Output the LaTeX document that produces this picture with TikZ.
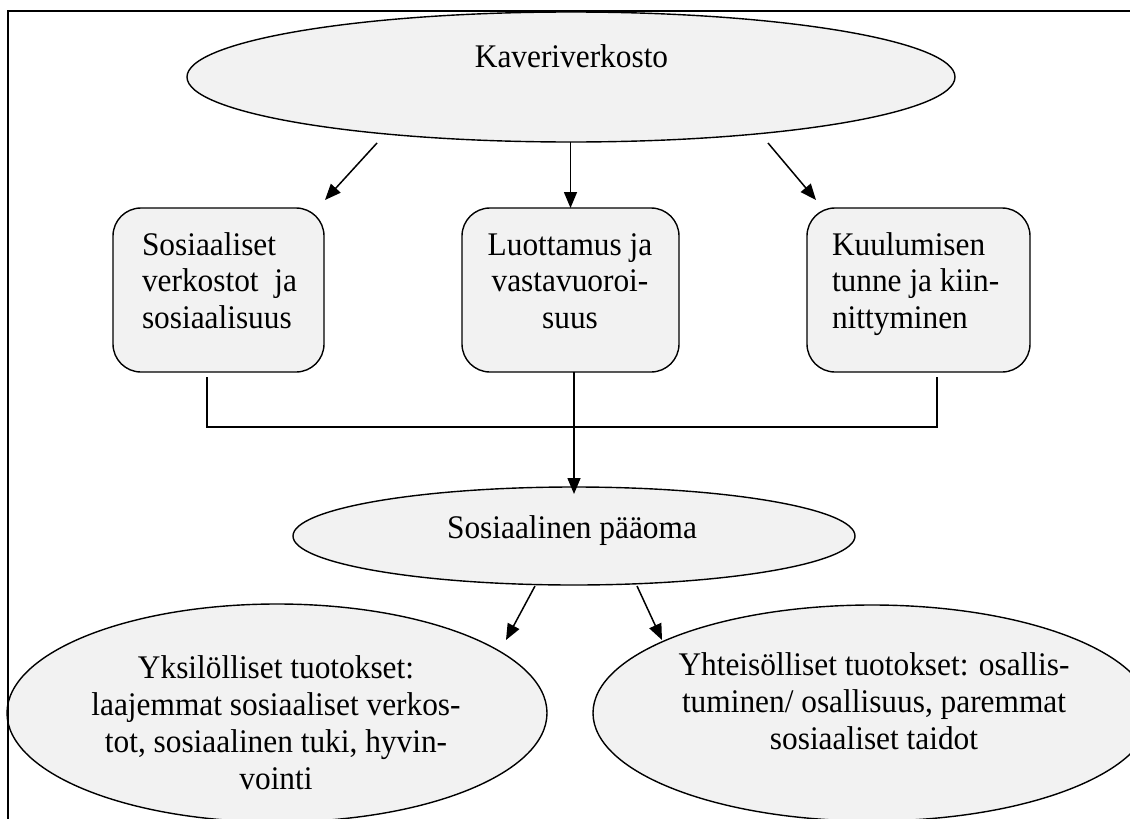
\documentclass[tikz,border=0pt]{standalone}
\usepackage{fontspec}
\setmainfont[FakeStretch=0.95]{Liberation Serif}
\usetikzlibrary{arrows.meta,shapes.geometric}
\definecolor{fillgray}{HTML}{F2F2F2}
\begin{document}
\begin{tikzpicture}[x=1pt,y=-1pt,
  every node/.style={inner sep=0pt, outer sep=0pt},
  shapeline/.style={draw=black, line width=1.4pt, fill=fillgray},
  oval/.style={shapeline, ellipse},
  rbox/.style={shapeline, rectangle, rounded corners=28pt},
  txt/.style={font=\fontsize{33}{36.7}\selectfont, anchor=base},
  conn/.style={line width=1.5pt},
  arr/.style={conn, -{Triangle[length=16pt,width=13pt]}}]
\useasboundingbox (0,0) rectangle (1130,819);
\clip (0,0) rectangle (1130,819);
\fill[white] (0,0) rectangle (1130,819);

% shapes
\node[oval, minimum width=768pt, minimum height=130pt] (top) at (571,77) {};
\node[rbox, minimum width=211pt, minimum height=164pt] (b1) at (218.5,290) {};
\node[rbox, minimum width=217pt, minimum height=164pt] (b2) at (570.5,290) {};
\node[rbox, minimum width=223pt, minimum height=164pt] (b3) at (918.5,290) {};
\node[oval, minimum width=562pt, minimum height=98pt] (cap) at (574,536) {};
\node[oval, minimum width=540pt, minimum height=218pt] (out1) at (277,713) {};
\node[oval, minimum width=558pt, minimum height=216pt] (out2) at (872,713) {};

% texts (base anchor = baseline of the last line)
\node[txt] (tkav) at (571.5,67) {Kaveriverkosto};
\node[txt, anchor=base west, align=left] (t1) at (142,328.4) {Sosiaaliset\\verkostot\ \ ja\\sosiaalisuus};
\node[txt, align=center] (t2) at (570,328.4) {Luottamus ja\\vastavuoroi-\\suus};
\node[txt, anchor=base west, align=left] (t3) at (832,328.4) {Kuulumisen\\tunne ja kiin-\\nittyminen};
\node[txt] (tcap) at (572,538) {Sosiaalinen pääoma};
\node[txt, align=center] (to1) at (276,789) {Yksilölliset tuotokset:\\laajemmat sosiaaliset verkos-\\tot, sosiaalinen tuki, hyvin-\\vointi};
\node[txt, align=center] (to2) at (874,749) {Yhteisölliset tuotokset: osallis-\\tuminen/ osallisuus, paremmat\\sosiaaliset taidot};

% connector end points
\coordinate (a1s) at (377,143);
\coordinate (a1e) at (325,200);
\coordinate (a3s) at (768,143);
\coordinate (a3e) at (816,200);
\coordinate (l1) at (207,377);
\coordinate (l3) at (937,377);
\coordinate (jy) at (575,427);
\coordinate (c1s) at (535,586);
\coordinate (c1e) at (506,640);
\coordinate (c2s) at (637,586);
\coordinate (c2e) at (662,640);

% connectors
\draw[arr] (a1s) -- (a1e);
\draw[arr] (top.south -| b2.north) -- (b2.north);
\draw[arr] (a3s) -- (a3e);
\draw[conn] (l1) -- (l1 |- jy) -- (l3 |- jy) -- (l3);
\draw[arr] (b2.south -| cap.north) -- ([yshift=-7pt]cap.north);
\draw[arr] (c1s) -- (c1e);
\draw[arr] (c2s) -- (c2e);

% frame
\coordinate (fr) at (1130,11);
\coordinate (fl) at (8,11);
\coordinate (fb) at (8,819);
\draw[line width=1.4pt] (fr) -- (fl) -- (fb);
\end{tikzpicture}
\end{document}
